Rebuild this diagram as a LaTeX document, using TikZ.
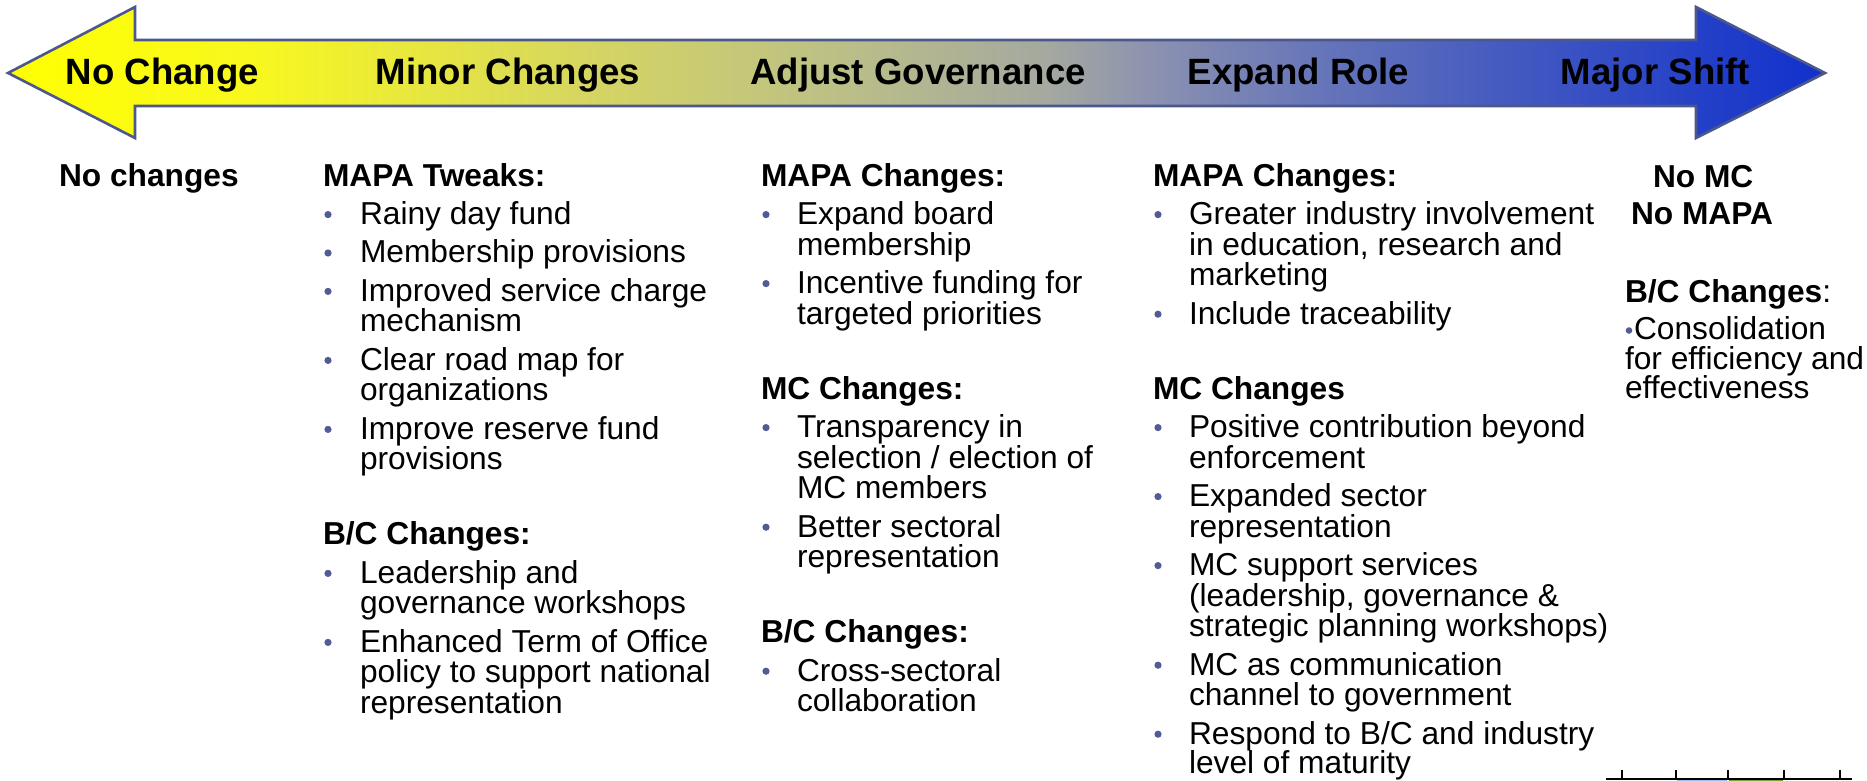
\documentclass[tikz,border=0pt]{standalone}
\usepackage{fontspec}
\setmainfont{Liberation Sans}
\definecolor{s0}{RGB}{255,255,0}
\definecolor{s1}{RGB}{248,248,30}
\definecolor{s2}{RGB}{212,212,100}
\definecolor{s3}{RGB}{186,190,136}
\definecolor{s4}{RGB}{164,168,160}
\definecolor{s5}{RGB}{140,146,176}
\definecolor{s6}{RGB}{106,120,184}
\definecolor{s7}{RGB}{78,98,190}
\definecolor{s8}{RGB}{36,64,200}
\definecolor{s9}{RGB}{16,48,204}
\definecolor{outl}{RGB}{76,88,140}
\definecolor{bulc}{RGB}{80,92,150}
\definecolor{rblue}{RGB}{160,192,232}
\definecolor{rgreen}{RGB}{128,160,64}
\newcommand\bdot[2]{\fill[bulc] (#1,#2-9.8) circle[radius=3.6pt];}
\begin{document}
\begin{tikzpicture}[x=1pt,y=-1pt,
  txt/.style={anchor=base west, inner sep=0pt, outer sep=0pt, text=black, font=\fontsize{31.7}{31.7}\selectfont},
  hd/.style={txt, font=\fontsize{31.7}{31.7}\selectfont\bfseries},
  lbl/.style={anchor=base, inner sep=0pt, outer sep=0pt, text=black, font=\fontsize{36.6}{36.6}\selectfont\bfseries},
  seg/.style={draw=none}]
\useasboundingbox (0,0) rectangle (1867,781);
\fill[white] (0,0) rectangle (1867,781);

% ---- double arrow ----
\def\arrowpath{(8,73) -- (135,7) -- (135,40) -- (1696,40) -- (1696,7) -- (1825,73) -- (1696,138) -- (1696,106) -- (135,106) -- (135,138) -- cycle}
\begin{scope}
  \clip \arrowpath;
  \shade[seg,left color=s0,right color=s1] (0,0) rectangle (251,150);
  \shade[seg,left color=s1,right color=s2] (250,0) rectangle (601,150);
  \shade[seg,left color=s2,right color=s3] (600,0) rectangle (851,150);
  \shade[seg,left color=s3,right color=s4] (850,0) rectangle (1051,150);
  \shade[seg,left color=s4,right color=s5] (1050,0) rectangle (1151,150);
  \shade[seg,left color=s5,right color=s6] (1150,0) rectangle (1301,150);
  \shade[seg,left color=s6,right color=s7] (1300,0) rectangle (1451,150);
  \shade[seg,left color=s7,right color=s8] (1450,0) rectangle (1701,150);
  \shade[seg,left color=s8,right color=s9] (1700,0) rectangle (1830,150);
\end{scope}
\draw[outl, line width=2.6pt, line join=miter] \arrowpath;

\node[lbl] (l1) at (162.5,85) {No Change};
\node[lbl] (l2) at (508,85) {Minor Changes};
\node[lbl] (l3) at (918,85) {Adjust Governance};
\node[lbl] (l4) at (1298.5,85) {Expand Role};
\node[lbl] (l5) at (1655.5,85) {Major Shift};

% ---- column 1 ----
\node[hd] (c1h) at (59,186) {No changes};

% ---- column 2 ----
\node[hd]  (c2h) at (323,186) {MAPA Tweaks:};
\node[txt] (c2a) at (360,224.4) {Rainy day fund};
\node[txt] (c2b) at (360,262.8) {Membership provisions};
\node[txt] (c2c) at (360,301.2) {Improved service charge};
\node[txt] (c2d) at (360,331.8) {mechanism};
\node[txt] (c2e) at (360,370.2) {Clear road map for};
\node[txt] (c2f) at (360,400.8) {organizations};
\node[txt] (c2g) at (360,439.2) {Improve reserve fund};
\node[txt] (c2i) at (360,469.8) {provisions};
\node[hd]  (c2h2) at (323,544.8) {B/C Changes:};
\node[txt] (c2j) at (360,583.2) {Leadership and};
\node[txt] (c2k) at (360,613.8) {governance workshops};
\node[txt] (c2l) at (360,652.2) {Enhanced Term of Office};
\node[txt] (c2m) at (360,682.8) {policy to support national};
\node[txt] (c2n) at (360,713.4) {representation};
\bdot{328}{224.4}\bdot{328}{262.8}\bdot{328}{301.2}\bdot{328}{370.2}
\bdot{328}{439.2}\bdot{328}{583.2}\bdot{328}{652.2}

% ---- column 3 ----
\node[hd]  (c3h) at (761,186) {MAPA Changes:};
\node[txt] (c3a) at (797,224.4) {Expand board};
\node[txt] (c3b) at (797,255) {membership};
\node[txt] (c3c) at (797,293.4) {Incentive funding for};
\node[txt] (c3d) at (797,324) {targeted priorities};
\node[hd]  (c3h2) at (761,399) {MC Changes:};
\node[txt] (c3e) at (797,437.4) {Transparency in};
\node[txt] (c3f) at (797,468) {selection / election of};
\node[txt] (c3g) at (797,498.6) {MC members};
\node[txt] (c3i) at (797,537) {Better sectoral};
\node[txt] (c3j) at (797,567.6) {representation};
\node[hd]  (c3h3) at (761,642.6) {B/C Changes:};
\node[txt] (c3k) at (797,681) {Cross-sectoral};
\node[txt] (c3l) at (797,711.6) {collaboration};
\bdot{766}{224.4}\bdot{766}{293.4}\bdot{766}{437.4}\bdot{766}{537}\bdot{766}{681}

% ---- column 4 ----
\node[hd]  (c4h) at (1153,186) {MAPA Changes:};
\node[txt] (c4a) at (1189,224.4) {Greater industry involvement};
\node[txt] (c4b) at (1189,255) {in education, research and};
\node[txt] (c4c) at (1189,285.6) {marketing};
\node[txt] (c4d) at (1189,324) {Include traceability};
\node[hd]  (c4h2) at (1153,399) {MC Changes};
\node[txt] (c4e) at (1189,437.4) {Positive contribution beyond};
\node[txt] (c4f) at (1189,468) {enforcement};
\node[txt] (c4g) at (1189,506.4) {Expanded sector};
\node[txt] (c4i) at (1189,537) {representation};
\node[txt] (c4j) at (1189,575.4) {MC support services};
\node[txt] (c4k) at (1189,606) {(leadership, governance \&};
\node[txt] (c4l) at (1189,636.6) {strategic planning workshops)};
\node[txt] (c4m) at (1189,675) {MC as communication};
\node[txt] (c4n) at (1189,705.6) {channel to government};
\node[txt] (c4o) at (1189,744) {Respond to B/C and industry};
\node[txt] (c4p) at (1189,773.5) {level of maturity};
\bdot{1158}{224.4}\bdot{1158}{324}\bdot{1158}{437.4}\bdot{1158}{506.4}
\bdot{1158}{575.4}\bdot{1158}{675}\bdot{1158}{744}

% ---- column 5 ----
\node[hd]  (c5a) at (1653,187) {No MC};
\node[hd]  (c5b) at (1631,224) {No MAPA};
\node[txt] (c5c) at (1625,302) {\bfseries B/C Changes\mdseries:};
\node[txt] (c5d) at (1634,339) {Consolidation};
\node[txt] (c5e) at (1625,369) {for efficiency and};
\node[txt] (c5f) at (1625,398) {effectiveness};
\fill[bulc] (1629,330.5) circle[radius=3.3pt];

% ---- ruler fragment ----
\fill[rblue] (1677,779) rectangle (1727,781);
\fill[rgreen] (1729,779) rectangle (1783,781);
\draw[black, line width=1.4pt] (1606,779) -- (1852,779);
\foreach \tx in {1622,1676,1728,1784,1840}
  \draw[black, line width=1.4pt] (\tx,770) -- (\tx,779);
\end{tikzpicture}
\end{document}
